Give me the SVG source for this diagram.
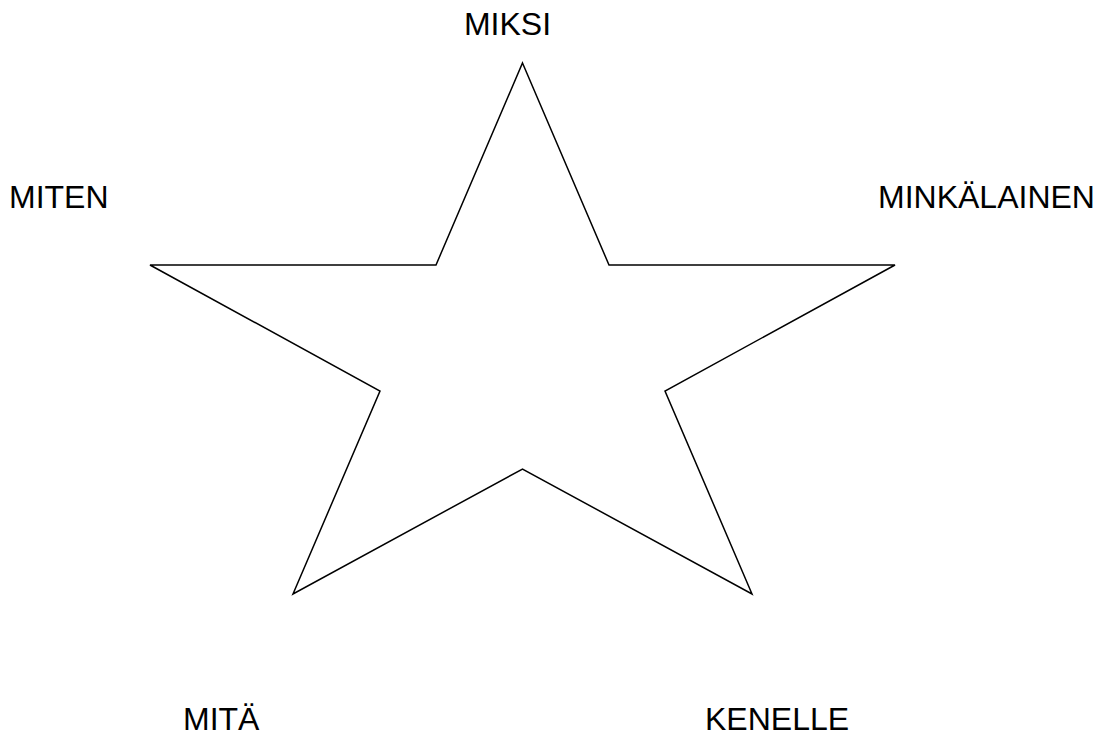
<svg xmlns="http://www.w3.org/2000/svg" width="1106" height="736" viewBox="0 0 1106 736">
<style>
.lbl{font-family:"Liberation Sans",Arial,sans-serif;font-size:32px;fill:#000}
.star{fill:#fff;stroke:#000;stroke-width:1.5;stroke-linejoin:miter}
</style>
<rect width="1106" height="736" fill="#fff"/>
<g id="star">
<polygon class="star" points="522.5,63 609,265 895,265 665,391 752,594 522.5,469 293,594 380,391 150,265 436,265"/>
</g>
<g id="connectors"></g>
<g id="label-miksi"><text class="lbl" x="507.5" y="35" text-anchor="middle">MIKSI</text></g>
<g id="label-miten"><text class="lbl" x="9" y="208">MITEN</text></g>
<g id="label-minkalainen"><text class="lbl" x="878" y="208">MINKÄLAINEN</text></g>
<g id="label-mita"><text class="lbl" x="183" y="730">MITÄ</text></g>
<g id="label-kenelle"><text class="lbl" x="705" y="730">KENELLE</text></g>
</svg>
